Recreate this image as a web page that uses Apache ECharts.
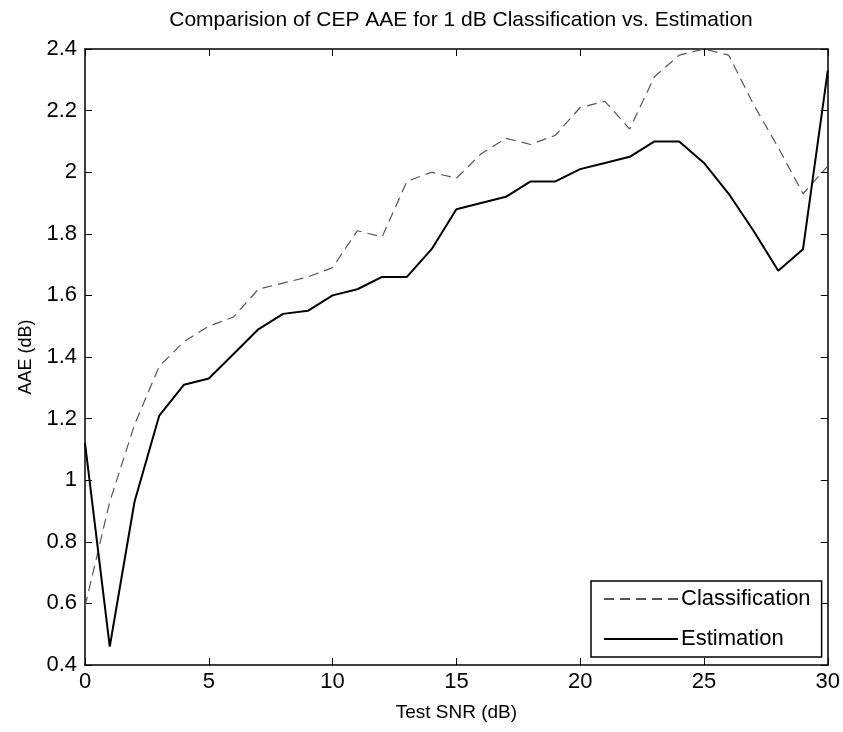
<!DOCTYPE html>
<html>
<head>
<meta charset="utf-8">
<style>
  html, body { margin: 0; padding: 0; background: #fff; }
  #chart { width: 843px; height: 732px; }
</style>
<script src="https://cdn.jsdelivr.net/npm/echarts@6/dist/echarts.min.js"></script>
</head>
<body>
<div id="chart"></div>
<script>
// Test SNR values (dB)
const snr = [0,1,2,3,4,5,6,7,8,9,10,11,12,13,14,15,16,17,18,19,20,21,22,23,24,25,26,27,28,29,30];

// Average absolute error, classification approach
const classification = [0.59,0.93,1.18,1.37,1.45,1.50,1.53,1.62,1.64,1.66,1.69,1.81,1.79,1.97,2.00,1.98,2.06,2.11,2.09,2.12,2.21,2.23,2.14,2.31,2.38,2.40,2.38,2.22,2.08,1.93,2.02];

// Average absolute error, estimation approach
const estimation = [1.12,0.46,0.93,1.21,1.31,1.33,1.41,1.49,1.54,1.55,1.60,1.62,1.66,1.66,1.75,1.88,1.90,1.92,1.97,1.97,2.01,2.03,2.05,2.10,2.10,2.03,1.93,1.81,1.68,1.75,2.33];

const xTicks = { min: 0, max: 30, interval: 5 };
const yTicks = { min: 0.4, max: 2.4, interval: 0.2 };

const pair = (xs, ys) => xs.map((x, i) => [x, ys[i]]);

const FONT = '"Liberation Sans", Arial, sans-serif';
const CLEAR = 'rgba(0,0,0,0)';

const chart = echarts.init(document.getElementById('chart'), null, { renderer: 'canvas' });

const tickStyle = { show: true, inside: true, length: 7, lineStyle: { color: '#000', width: 1 } };
const lineAx = { show: true, onZero: false, lineStyle: { color: '#000', width: 1.5 } };

chart.setOption({
  backgroundColor: '#fff',
  animation: false,
  title: {
    text: 'Comparision of CEP AAE for 1 dB Classification vs. Estimation',
    left: 456, top: 5, textAlign: 'center',
    textStyle: { fontFamily: FONT, fontSize: 21, fontWeight: 'normal', color: '#000' }
  },
  grid: { left: 85, right: 15, top: 49, bottom: 67, containLabel: false },
  legend: {
    orient: 'vertical',
    left: 591, top: 581,
    padding: [5, 11, 5, 12],
    itemGap: 14,
    itemWidth: 74, itemHeight: 14,
    backgroundColor: '#fff',
    borderColor: '#000', borderWidth: 1.5, borderRadius: 0,
    // line sample only, no marker in the middle
    itemStyle: { color: CLEAR, borderColor: CLEAR, borderWidth: 0 },
    textStyle: { fontFamily: FONT, fontSize: 22, lineHeight: 26, color: '#000', padding: [0, 0, 0, -2] },
    data: ['Classification', 'Estimation']
  },
  xAxis: [
    {
      type: 'value', position: 'bottom',
      min: xTicks.min, max: xTicks.max, interval: xTicks.interval,
      name: 'Test SNR (dB)', nameLocation: 'middle', nameGap: 38,
      nameTextStyle: { fontFamily: FONT, fontSize: 19, color: '#000' },
      axisLine: lineAx, axisTick: tickStyle,
      axisLabel: { fontFamily: FONT, fontSize: 22, color: '#000', margin: 6 },
      splitLine: { show: false }
    },
    {
      type: 'value', position: 'top',
      min: xTicks.min, max: xTicks.max, interval: xTicks.interval,
      axisLine: lineAx, axisTick: tickStyle,
      axisLabel: { show: false }, splitLine: { show: false }
    }
  ],
  yAxis: [
    {
      type: 'value', position: 'left',
      min: yTicks.min, max: yTicks.max, interval: yTicks.interval,
      name: 'AAE (dB)', nameLocation: 'middle', nameGap: 48, nameRotate: 90,
      nameTextStyle: { fontFamily: FONT, fontSize: 18, color: '#000' },
      axisLine: lineAx, axisTick: tickStyle,
      axisLabel: { fontFamily: FONT, fontSize: 22, color: '#000', margin: 8 },
      splitLine: { show: false }
    },
    {
      type: 'value', position: 'right',
      min: yTicks.min, max: yTicks.max, interval: yTicks.interval,
      axisLine: lineAx, axisTick: tickStyle,
      axisLabel: { show: false }, splitLine: { show: false }
    }
  ],
  series: [
    {
      name: 'Classification', type: 'line',
      data: pair(snr, classification),
      symbol: 'circle', showSymbol: false, clip: true,
      lineStyle: { color: '#555', width: 1.2, type: [10, 6] },
      itemStyle: { color: '#555' }
    },
    {
      name: 'Estimation', type: 'line',
      data: pair(snr, estimation),
      symbol: 'circle', showSymbol: false, clip: true,
      lineStyle: { color: '#000', width: 2 },
      itemStyle: { color: '#000' }
    }
  ]
});
</script>
</body>
</html>
